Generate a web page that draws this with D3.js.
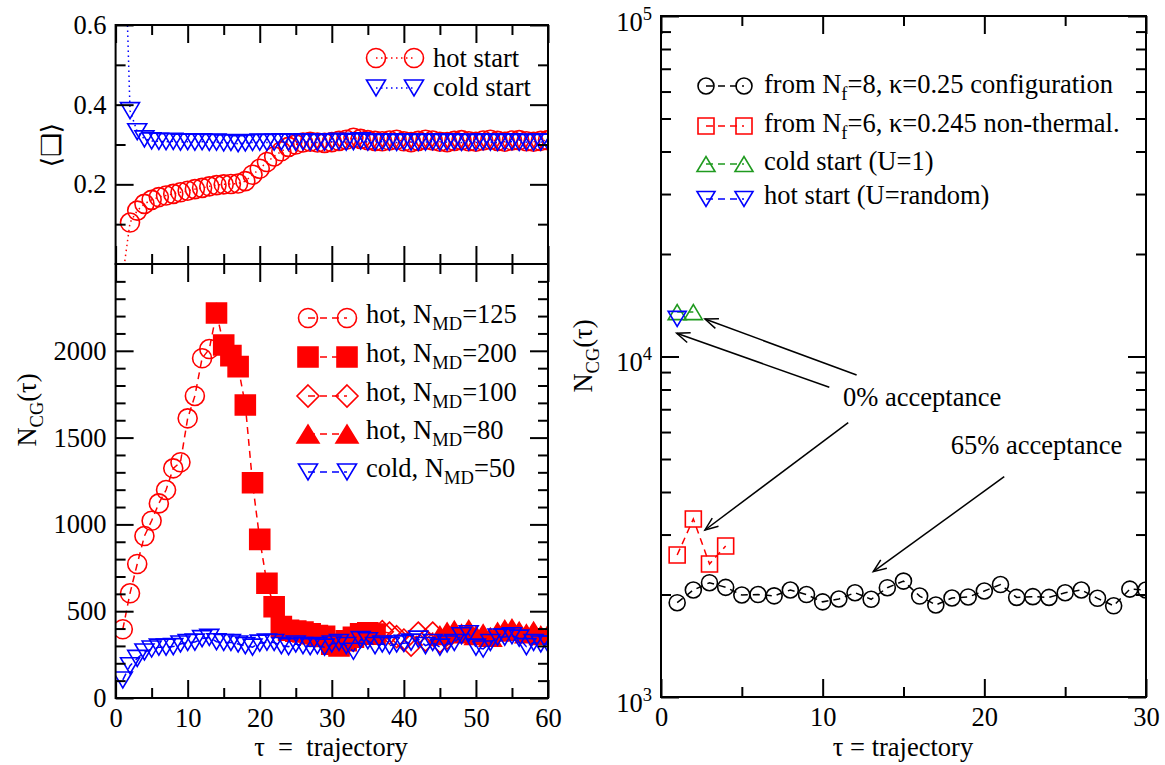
<!DOCTYPE html>
<html><head><meta charset="utf-8">
<script src="https://cdn.jsdelivr.net/npm/d3@7"></script>
<style>
body{margin:0;background:#fff}
</style></head><body>
<svg id="chart" width="1165" height="765"></svg>
<script>
// ---------------- DATA ----------------
// top-left panel: plaquette vs trajectory (tau = 1..60)
const tauTopStart = 1;
const hotStart = [-0.03,0.104,0.134,0.151,0.161,0.168,0.172,0.176,0.180,0.184,0.188,0.191,0.195,0.198,0.200,0.201,0.202,0.208,0.224,0.239,
  0.256,0.270,0.283,0.294,0.300,0.305,0.307,0.305,0.304,0.306,0.309,0.312,0.317,0.314,0.311,0.309,0.308,0.310,0.312,0.308,
  0.306,0.309,0.312,0.310,0.307,0.306,0.309,0.311,0.308,0.307,0.310,0.312,0.309,0.307,0.310,0.311,0.308,0.307,0.309,0.311];
const coldStart = [1.0,0.385,0.332,0.314,0.309,0.308,0.307,0.308,0.306,0.307,0.306,0.307,0.305,0.306,0.304,0.305,0.302,0.304,0.305,0.306,
  0.305,0.306,0.307,0.306,0.305,0.307,0.306,0.305,0.306,0.307,0.308,0.306,0.307,0.309,0.306,0.305,0.307,0.306,0.305,0.307,
  0.306,0.305,0.306,0.307,0.305,0.306,0.307,0.305,0.306,0.305,0.307,0.306,0.305,0.306,0.307,0.305,0.306,0.305,0.306,0.307];

// bottom-left panel: N_CG vs trajectory
const hot125Start = 1;
const hot125 = [396,603,772,933,1021,1121,1198,1323,1358,1611,1740,1957,2010,2218];
const hot200Start = 14;
const hot200 = [2218,2033,1972,1909,1688,1240,914,661,526,411,390,385,380,370,360,355,310,300,330,350,370,375,368];
const hot100Start = 37;
const hot100 = [382,374,353,334,305,374,334,374,325,345];
const hot80Start = 45;
const hot80 = [360,380,390,370,395,360,370,350,380,395,400,385,370,385,360,365];
const cold50Start = 1;
const cold50 = [104,186,228,265,282,293,293,296,311,320,322,342,349,324,320,320,311,302,293,316,
  322,320,302,296,311,302,296,302,293,311,320,302,269,336,330,302,311,302,311,315,
  322,339,302,320,293,311,320,359,370,293,282,320,351,351,359,345,296,320,311,311];

// right panel: N_CG (log) vs trajectory
const nf8Start = 1;
const nf8 = [1892,2062,2166,2099,1993,1999,1982,2062,1999,1903,1940,2024,1936,2094,2190,1979,1863,1953,1967,2048,
  2139,1961,1971,1961,2024,2062,1949,1853,2074,2062];
const nf6Start = 1;
const nf6 = [2612,3333,2458,2777];
const coldUStart = 1;
const coldU = [13500,13500];
const hotUStart = 1;
const hotU = [12900];

// tick labels
const leftXTicks = [0,10,20,30,40,50,60];
const topYTicks = [0.2,0.4,0.6];
const botYTicks = [0,500,1000,1500,2000];
const rightXTicks = [0,10,20,30];
const rightYTicks = [1e3,1e4,1e5];
const rightYExp = ["3","4","5"];

// annotations (data coords of right panel)
const annoTexts = [{t:"0% acceptance", x:11.26, y:7154},{t:"65% acceptance", x:17.93, y:5173}];
const annoArrows = [
  {from:[12.1,8826], to:[2.72,12882]},
  {from:[10.41,8123], to:[0.97,11700]},
  {from:[11.58,6392], to:[2.72,3094]},
  {from:[21.23,4436], to:[13.13,2334]}
];

// ---------------- CHART ----------------
const SERIF = "'Liberation Serif','Times New Roman',Times,'DejaVu Serif',serif";
const svg = d3.select("#chart").attr("font-family", SERIF);
const FS = 26.5;
const RED="#ff0000", BLUE="#0000ff", GREEN="#1f9a1f", BLACK="#000";

const xL = d3.scaleLinear().domain([0,60]).range([115.6,548]);
const yTop = d3.scaleLinear().domain([0,0.6]).range([264,25]);
const yBot = d3.scaleLinear().domain([0,2500]).range([698,264]);
const xR = d3.scaleLinear().domain([0,30]).range([661,1146]);
const yR = d3.scaleLog().domain([1e3,1e5]).range([697,16]);

const defs = svg.append("defs");
function clip(id, x, y){
  const [x0,x1]=x.range(), [yb,yt]=y.range();
  defs.append("clipPath").attr("id",id).append("rect")
    .attr("x",x0).attr("y",yt).attr("width",x1-x0).attr("height",yb-yt);
  return svg.append("g").attr("clip-path",`url(#${id})`);
}

function styleAxis(g){
  g.attr("font-family",SERIF).attr("font-size",FS);
  g.select(".domain").remove();
  g.selectAll(".tick line").attr("stroke","#000").attr("stroke-width",2);
  g.selectAll(".tick text").attr("font-size",FS).attr("fill","#000");
  return g;
}
function minorVals(domain, step, majorStep){
  const out=[]; for(let v=domain[0]; v<=domain[1]+1e-9; v+=step){
    const r = Math.abs(v/majorStep - Math.round(v/majorStep));
    if(r>1e-6) out.push(+v.toFixed(6));
  } return out;
}

function frame(x, y, o){
  const [x0,x1]=x.range(), [yb,yt]=y.range();
  styleAxis(svg.append("g").attr("transform",`translate(0,${yb})`)
    .call(d3.axisBottom(x).tickValues(o.xMajor).tickSize(-18).tickPadding(10)
      .tickFormat(o.xLabels ? d3.format("d") : "")));
  styleAxis(svg.append("g").attr("transform",`translate(0,${yb})`)
    .call(d3.axisBottom(x).tickValues(o.xMinor).tickSize(-10).tickFormat("")));
  styleAxis(svg.append("g").attr("transform",`translate(0,${yt})`)
    .call(d3.axisTop(x).tickValues(o.xMajor).tickSize(-18).tickFormat("")));
  styleAxis(svg.append("g").attr("transform",`translate(0,${yt})`)
    .call(d3.axisTop(x).tickValues(o.xMinor).tickSize(-10).tickFormat("")));
  const gl = styleAxis(svg.append("g").attr("transform",`translate(${x0},0)`)
    .call(d3.axisLeft(y).tickValues(o.yMajor).tickSize(-18).tickPadding(9)
      .tickFormat(o.yFormat || "")));
  styleAxis(svg.append("g").attr("transform",`translate(${x0},0)`)
    .call(d3.axisLeft(y).tickValues(o.yMinor).tickSize(-10).tickFormat("")));
  styleAxis(svg.append("g").attr("transform",`translate(${x1},0)`)
    .call(d3.axisRight(y).tickValues(o.yMajor).tickSize(-18).tickFormat("")));
  styleAxis(svg.append("g").attr("transform",`translate(${x1},0)`)
    .call(d3.axisRight(y).tickValues(o.yMinor).tickSize(-10).tickFormat("")));
  svg.append("rect").attr("x",x0).attr("y",yt).attr("width",x1-x0).attr("height",yb-yt)
    .attr("fill","none").attr("stroke","#000").attr("stroke-width",2);
  return gl;
}

function markerPath(type, s){
  const w=s.w, h=s.h;
  switch(type){
    case "circle": return `M${w},0A${w},${w} 0 1,1 ${-w},0A${w},${w} 0 1,1 ${w},0Z`;
    case "square": return `M${-w},${-w}H${w}V${w}H${-w}Z`;
    case "diamond": return `M0,${-w}L${w},0L0,${w}L${-w},0Z`;
    case "triUp": return `M${-w},${h}L${w},${h}L0,${-h}Z`;
    case "triDown": return `M${-w},${-h}L${w},${-h}L0,${h}Z`;
  }
}

function drawSeries(layer, start, vals, x, y, st){
  const pts = vals.map((v,i)=>({t:start+i, v}));
  layer.append("path").datum(pts)
    .attr("d", d3.line().x(d=>x(d.t)).y(d=>y(d.v)))
    .attr("fill","none").attr("stroke",st.color).attr("stroke-width",st.lw||1.5)
    .attr("stroke-dasharray",st.dash);
  layer.selectAll(null).data(pts).join("path")
    .attr("transform",d=>`translate(${x(d.t)},${y(d.v)})`)
    .attr("d",markerPath(st.marker, st.size))
    .attr("fill",st.fill?st.color:"none").attr("stroke",st.color).attr("stroke-width",st.mw||1.6);
}

function richText(t, parts){
  let shift=0;
  parts.forEach(p=>{
    if(typeof p==="string"){
      t.append("tspan").attr("dy",-shift).text(p); shift=0;
    } else if(p.sub){
      t.append("tspan").attr("dy",7-shift).attr("font-size",FS*0.7).text(p.sub); shift=7;
    }
  });
}
function legendEntry(x1, x2, my, tx, ty, st, parts){
  svg.append("line").attr("x1",x1).attr("x2",x2).attr("y1",my).attr("y2",my)
    .attr("stroke",st.color).attr("stroke-width",st.lw||1.5).attr("stroke-dasharray",st.dash);
  [x1,x2].forEach(px=>svg.append("path").attr("transform",`translate(${px},${my})`)
    .attr("d",markerPath(st.marker, st.size))
    .attr("fill",st.fill?st.color:"none").attr("stroke",st.color).attr("stroke-width",st.mw||1.6));
  const t = svg.append("text").attr("x",tx).attr("y",ty).attr("font-size",FS).attr("fill","#000");
  richText(t, parts);
}

// ---- top-left panel ----
const sHot = {color:RED, dash:"1.5,3.5", marker:"circle", size:{w:9.5}};
const sCold = {color:BLUE, dash:"1.5,3.5", marker:"triDown", size:{w:9.5,h:8}};
const lTop = clip("cTop", xL, yTop);
drawSeries(lTop, tauTopStart, hotStart, xL, yTop, sHot);
drawSeries(lTop, tauTopStart, coldStart, xL, yTop, sCold);
frame(xL, yTop, {xMajor:leftXTicks, xMinor:minorVals([0,60],5,10), xLabels:false,
  yMajor:topYTicks, yMinor:[0.1,0.3,0.5], yFormat:d3.format(".1f")});
legendEntry(376,414,58,433,67,sHot,["hot start"]);
legendEntry(376,414,88,433,96,sCold,["cold start"]);

// ---- bottom-left panel ----
const s125 = {color:RED, dash:"7,5", marker:"circle", size:{w:9.5}};
const s200 = {color:RED, dash:"7,5", marker:"square", size:{w:10}, fill:true};
const s100 = {color:RED, dash:"7,5", marker:"diamond", size:{w:11}};
const s80 = {color:RED, dash:"7,5", marker:"triUp", size:{w:11,h:9}, fill:true};
const s50 = {color:BLUE, dash:"7,5", marker:"triDown", size:{w:9.5,h:8}};
const lBot = clip("cBot", xL, yBot);
drawSeries(lBot, hot125Start, hot125, xL, yBot, s125);
drawSeries(lBot, hot200Start, hot200, xL, yBot, s200);
drawSeries(lBot, hot100Start, hot100, xL, yBot, s100);
drawSeries(lBot, hot80Start, hot80, xL, yBot, s80);
drawSeries(lBot, cold50Start, cold50, xL, yBot, s50);
frame(xL, yBot, {xMajor:leftXTicks, xMinor:minorVals([0,60],5,10), xLabels:true,
  yMajor:botYTicks, yMinor:minorVals([0,2500],100,500), yFormat:d3.format("d")});
const botLeg = [[s125,"=125"],[s200,"=200"],[s100,"=100"],[s80,"=80"],[s50,"=50"]];
const botLegY = [318,357,396,434,472];
botLeg.forEach((e,i)=>legendEntry(308,347,botLegY[i],366,botLegY[i]+5,e[0],
  [(i===4?"cold, N":"hot, N"),{sub:"MD"},e[1]]));

// ---- right panel ----
const sNf8 = {color:BLACK, dash:"7,5", marker:"circle", size:{w:8}};
const sNf6 = {color:RED, dash:"7,5", marker:"square", size:{w:8}};
const sCU = {color:GREEN, dash:"7,5", marker:"triUp", size:{w:9,h:7.5}};
const sHU = {color:BLUE, dash:"7,5", marker:"triDown", size:{w:9,h:7.5}};
const lR = clip("cR", xR, yR);
drawSeries(lR, nf8Start, nf8, xR, yR, sNf8);
drawSeries(lR, nf6Start, nf6, xR, yR, sNf6);
drawSeries(lR, coldUStart, coldU, xR, yR, sCU);
drawSeries(lR, hotUStart, hotU, xR, yR, sHU);
const rMinor = [];
[1e3,1e4].forEach(d=>{for(let k=2;k<=9;k++) rMinor.push(k*d);});
const glR = frame(xR, yR, {xMajor:rightXTicks, xMinor:minorVals([0,30],5,10), xLabels:true,
  yMajor:rightYTicks, yMinor:rMinor, yFormat:()=>""});
glR.selectAll(".tick").each(function(d,i){
  const t = d3.select(this).append("text").attr("x",-9).attr("y",14)
    .attr("text-anchor","end").attr("font-size",FS).attr("fill","#000");
  t.append("tspan").text("10");
  t.append("tspan").attr("dy",-11).attr("font-size",FS*0.7).text(rightYExp[i]);
});
const rLeg = [
  [sNf8,["from N",{sub:"f"},"=8, κ=0.25 configuration"]],
  [sNf6,["from N",{sub:"f"},"=6, κ=0.245 non-thermal."]],
  [sCU,["cold start (U=1)"]],
  [sHU,["hot start (U=random)"]]
];
const rLegY = [93,132,170,204];
const rLegM = [86,126,164,199];
rLeg.forEach((e,i)=>legendEntry(706,744,rLegM[i],764,rLegY[i],e[0],e[1]));

// annotations
annoTexts.forEach(a=>svg.append("text").attr("x",xR(a.x)).attr("y",yR(a.y))
  .attr("font-size",FS).attr("fill","#000").text(a.t));
annoArrows.forEach(a=>{
  const x1=xR(a.from[0]), y1=yR(a.from[1]), x2=xR(a.to[0]), y2=yR(a.to[1]);
  svg.append("line").attr("x1",x1).attr("y1",y1).attr("x2",x2).attr("y2",y2)
    .attr("stroke","#000").attr("stroke-width",1.5);
  const ang = Math.atan2(y1-y2, x1-x2), L=14, sp=0.38;
  const p = `M${x2+L*Math.cos(ang+sp)},${y2+L*Math.sin(ang+sp)}L${x2},${y2}L${x2+L*Math.cos(ang-sp)},${y2+L*Math.sin(ang-sp)}`;
  svg.append("path").attr("d",p).attr("fill","none").attr("stroke","#000").attr("stroke-width",1.5);
});

// axis titles
svg.append("text").attr("x",331).attr("y",756).attr("text-anchor","middle")
  .attr("font-size",FS).style("white-space","pre").text("τ  =  trajectory");
svg.append("text").attr("x",903).attr("y",756).attr("text-anchor","middle")
  .attr("font-size",FS).text("τ = trajectory");
const yl1 = svg.append("text").attr("transform","translate(36,410) rotate(-90)")
  .attr("text-anchor","middle").attr("font-size",FS);
richText(yl1, ["N",{sub:"CG"},"(τ)"]);
const yl2 = svg.append("text").attr("transform","translate(592,356) rotate(-90)")
  .attr("text-anchor","middle").attr("font-size",FS);
richText(yl2, ["N",{sub:"CG"},"(τ)"]);

// force serif family on every text
svg.selectAll("text").attr("font-family", SERIF).style("font-family", SERIF);

const pl = svg.append("text").attr("transform","translate(60,145) rotate(-90)")
  .attr("text-anchor","middle").attr("font-size",FS);
pl.append("tspan").style("font-family","'DejaVu Serif',serif").text("⟨");
pl.append("tspan").style("font-family","'DejaVu Sans',sans-serif").text("❑");
pl.append("tspan").style("font-family","'DejaVu Serif',serif").text("⟩");
</script>
</body></html>
